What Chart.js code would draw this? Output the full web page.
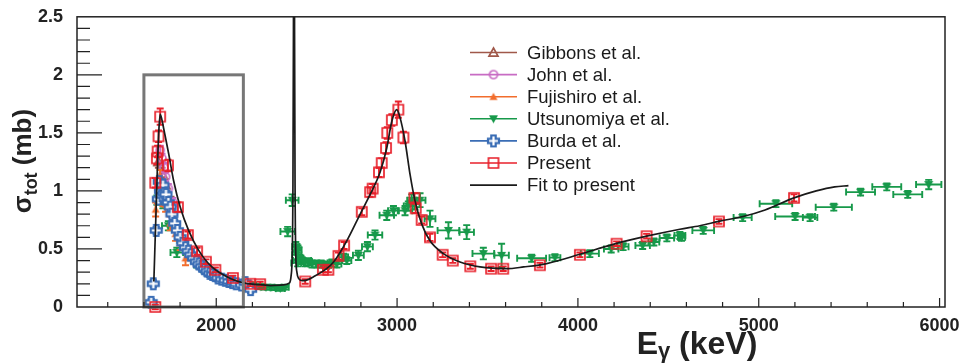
<!DOCTYPE html>
<html>
<head>
<meta charset="utf-8">
<script src="https://cdn.jsdelivr.net/npm/chart.js@4.4.1/dist/chart.umd.min.js"></script>
<style>
  html, body { margin: 0; padding: 0; background: #fff; }
  canvas { display: block; }
</style>
</head>
<body>
<canvas id="chart" width="964" height="363"></canvas>
<script>
// axis ticks
const xTicks = [2000, 3000, 4000, 5000, 6000];
const yTicks = [0, 0.5, 1, 1.5, 2, 2.5];

// Present (red squares)
const presentE = [1663, 1663, 1672, 1676, 1681, 1690, 1733, 1788, 1843, 1894, 1943, 1995, 2092, 2188, 2243,
  2492, 2590, 2620, 2676, 2707, 2805, 2851, 2865, 2900, 2915, 2939, 2946, 2971, 3007, 3035, 3096, 3103,
  3136, 3182, 3252, 3308, 3405, 3520, 3587, 3790, 4011, 4214, 4380, 4780, 5195];
const presentS = [0.00, 1.07, 1.28, 1.34, 1.47, 1.64, 1.22, 0.86, 0.62, 0.48, 0.39, 0.32, 0.25, 0.20, 0.197,
  0.22, 0.32, 0.32, 0.44, 0.53, 0.82, 0.99, 1.02, 1.16, 1.24, 1.37, 1.50, 1.61, 1.70, 1.46, 0.94, 0.85,
  0.75, 0.60, 0.45, 0.40, 0.35, 0.33, 0.33, 0.36, 0.45, 0.545, 0.61, 0.737, 0.94];
const presentErr = [0.02, 0.04, 0.05, 0.05, 0.05, 0.07, 0.05, 0.04, 0.03, 0.03, 0.02, 0.02, 0.02, 0.02, 0.02,
  0.02, 0.02, 0.02, 0.03, 0.03, 0.03, 0.04, 0.04, 0.04, 0.04, 0.05, 0.05, 0.05, 0.07, 0.05, 0.04, 0.04,
  0.03, 0.03, 0.02, 0.02, 0.02, 0.02, 0.02, 0.02, 0.02, 0.02, 0.02, 0.02, 0.03];

// Fit to present
const fitE = [1655, 1665, 1675, 1683, 1690, 1700, 1709, 1737, 1764, 1801, 1847, 1902, 1976, 2078, 2151, 2220,
  2300, 2370, 2403, 2414, 2420, 2424, 2427, 2430, 2433, 2436, 2440, 2446, 2456, 2475, 2500, 2538, 2610,
  2650, 2722, 2796, 2851, 2906, 2943, 2971, 2998, 3015, 3044, 3072, 3099, 3136, 3182, 3256, 3348, 3459,
  3606, 3700, 3827, 4011, 4195, 4380, 4564, 4674, 4785, 4914, 5035, 5195, 5318, 5420, 5496];
const fitS = [0.22, 0.72, 1.22, 1.53, 1.66, 1.61, 1.54, 1.32, 1.09, 0.86, 0.66, 0.49, 0.345, 0.246, 0.208, 0.195,
  0.185, 0.19, 0.205, 0.27, 0.45, 1.0, 2.4, 6.0, 2.4, 1.0, 0.45, 0.30, 0.245, 0.228, 0.232, 0.26, 0.33,
  0.39, 0.57, 0.80, 0.97, 1.16, 1.37, 1.60, 1.70, 1.64, 1.43, 1.14, 0.916, 0.716, 0.57, 0.46, 0.388, 0.345,
  0.33, 0.345, 0.374, 0.454, 0.54, 0.61, 0.67, 0.70, 0.74, 0.78, 0.836, 0.94, 1.0, 1.035, 1.045];

// Burda et al. (blue crosses)
const burdaE = [1640, 1652, 1668, 1680, 1685, 1692, 1700, 1705, 1712, 1722, 1735, 1745, 1755, 1770, 1785, 1800,
  1815, 1830, 1845, 1860, 1875, 1890, 1905, 1920, 1935, 1950, 1965, 1980, 1995, 2010, 2030, 2050, 2070,
  2090, 2110, 2140, 2160, 2190];
const burdaS = [0.04, 0.20, 0.66, 0.93, 1.08, 1.00, 0.96, 1.05, 0.98, 0.97, 0.90, 0.86, 0.80, 0.72, 0.66, 0.60,
  0.55, 0.51, 0.48, 0.45, 0.42, 0.39, 0.37, 0.35, 0.33, 0.31, 0.29, 0.28, 0.27, 0.25, 0.24, 0.23, 0.22,
  0.21, 0.20, 0.19, 0.21, 0.15];

// Utsunomiya et al. (green, with energy and cross-section errors)
const utsE = [1672, 1690, 1705, 1725, 1735, 1764, 1782, 1800, 1820, 1850, 1892, 1930, 1970, 2010, 2040, 2070,
  2110, 2150, 2200, 2243, 2275, 2298, 2330, 2354, 2381, 2395, 2420, 2440, 2452, 2445, 2462, 2475, 2450,
  2490, 2510, 2530, 2556, 2580, 2611, 2640, 2667, 2704, 2722, 2786, 2836, 2878, 2943, 2980, 3044, 3062,
  3081, 3099, 3127, 3182, 3284, 3385, 3477, 3578, 3744, 3873, 4066, 4184, 4250, 4358, 4420, 4492, 4564,
  4573, 4693, 4911, 5095, 5201, 5284, 5415, 5563, 5708, 5824, 5940];
const utsS = [0.92, 0.93, 0.89, 0.90, 0.70, 0.72, 0.47, 0.58, 0.52, 0.44, 0.37, 0.33, 0.29, 0.26, 0.25, 0.22,
  0.21, 0.20, 0.19, 0.175, 0.17, 0.17, 0.165, 0.16, 0.17, 0.65, 0.92, 0.52, 0.49, 0.45, 0.42, 0.40, 0.38,
  0.38, 0.39, 0.37, 0.37, 0.37, 0.36, 0.38, 0.37, 0.43, 0.40, 0.445, 0.52, 0.62, 0.79, 0.83, 0.83, 0.87,
  0.92, 0.89, 0.92, 0.76, 0.66, 0.645, 0.46, 0.445, 0.42, 0.425, 0.46, 0.50, 0.52, 0.53, 0.56, 0.595, 0.616,
  0.60, 0.66, 0.77, 0.89, 0.78, 0.77, 0.86, 0.99, 1.035, 0.97, 1.055];
const utsDE = [10, 10, 10, 15, 35, 15, 35, 15, 15, 15, 15, 15, 15, 15, 20, 20,
  20, 20, 20, 25, 25, 25, 25, 25, 20, 40, 35, 20, 20, 25, 20, 50, 35,
  20, 20, 20, 25, 20, 25, 25, 25, 25, 25, 30, 30, 40, 40, 30, 40, 25,
  25, 25, 30, 30, 60, 40, 60, 40, 80, 30, 50, 40, 30, 40, 30, 40, 30,
  20, 60, 50, 90, 110, 40, 100, 80, 80, 80, 70];
const utsDS = [0.04, 0.04, 0.04, 0.04, 0.04, 0.04, 0.04, 0.03, 0.03, 0.03, 0.03, 0.03, 0.02, 0.02, 0.02, 0.02,
  0.02, 0.02, 0.02, 0.02, 0.02, 0.02, 0.02, 0.02, 0.02, 0.04, 0.05, 0.04, 0.04, 0.04, 0.03, 0.03, 0.03,
  0.03, 0.03, 0.03, 0.03, 0.03, 0.03, 0.03, 0.03, 0.03, 0.03, 0.04, 0.04, 0.04, 0.04, 0.04, 0.04, 0.04,
  0.05, 0.05, 0.06, 0.07, 0.07, 0.06, 0.05, 0.10, 0.03, 0.03, 0.03, 0.03, 0.03, 0.03, 0.03, 0.03, 0.03,
  0.03, 0.03, 0.03, 0.03, 0.03, 0.03, 0.03, 0.03, 0.03, 0.03, 0.04];

// Fujishiro et al. (orange triangles)
const fujiE = [1665, 1675, 1690, 1705, 1720, 1745, 1775, 1800, 1830];
const fujiS = [0.84, 0.95, 1.12, 0.93, 0.88, 0.72, 0.63, 0.55, 0.42];

// John et al. (magenta circles)
const johnE = [1690, 1700, 1710, 1720, 1735, 1760];
const johnS = [1.35, 1.28, 1.20, 1.12, 1.02, 0.90];

// Gibbons et al. (brown open triangles)
const gibE = [1680, 1700, 1720, 1750];
const gibS = [1.25, 1.15, 1.05, 0.90];

// zoom box drawn on the plot: [E0, s0, E1, s1]
const zoomBox = [1600, 0, 2150, 2.0];

const FONT = '"Liberation Sans", Arial, Helvetica, sans-serif';
const INK = '#222';

function pts(xs, ys) {
  return xs.map((x, i) => ({ x: x, y: ys[i] }));
}

// small canvases used as point styles
function marker(kind, color, size) {
  const c = document.createElement('canvas');
  const s = size + 4;
  c.width = s;
  c.height = s;
  const g = c.getContext('2d');
  const m = s / 2, r = size / 2;
  g.strokeStyle = color;
  g.fillStyle = color;
  g.lineWidth = 1.7;
  g.beginPath();
  if (kind === 'square') {
    g.rect(m - r, m - r, size, size);
    g.stroke();
  } else if (kind === 'circle') {
    g.arc(m, m, r, 0, Math.PI * 2);
    g.stroke();
  } else if (kind === 'openTri' || kind === 'tri') {
    g.moveTo(m, m - r);
    g.lineTo(m + r, m + r * 0.8);
    g.lineTo(m - r, m + r * 0.8);
    g.closePath();
    if (kind === 'tri') g.fill(); else g.stroke();
  } else if (kind === 'triDown') {
    g.moveTo(m, m + r);
    g.lineTo(m + r, m - r * 0.8);
    g.lineTo(m - r, m - r * 0.8);
    g.closePath();
    g.fill();
  } else if (kind === 'cross') {
    const a = size * 0.2;
    g.moveTo(m - a, m - r); g.lineTo(m + a, m - r); g.lineTo(m + a, m - a);
    g.lineTo(m + r, m - a); g.lineTo(m + r, m + a); g.lineTo(m + a, m + a);
    g.lineTo(m + a, m + r); g.lineTo(m - a, m + r); g.lineTo(m - a, m + a);
    g.lineTo(m - r, m + a); g.lineTo(m - r, m - a); g.lineTo(m - a, m - a);
    g.closePath();
    g.fillStyle = '#fff';
    g.fill();
    g.lineWidth = 2.2;
    g.stroke();
  }
  return c;
}

const colors = {
  gib: '#a0584a',
  john: '#c86cc4',
  fuji: '#f26d2c',
  uts: '#17994a',
  burda: '#3a6db5',
  present: '#e8212b',
  fit: '#1a1a1a'
};

const markers = {
  gib: marker('openTri', colors.gib, 9),
  john: marker('circle', colors.john, 8),
  fuji: marker('tri', colors.fuji, 8),
  uts: marker('triDown', colors.uts, 9),
  burda: marker('cross', colors.burda, 11),
  present: marker('square', colors.present, 10)
};

// error bars, drawn just before each dataset
const errorBars = {
  id: 'errorBars',
  beforeDatasetDraw(chart, args) {
    const ds = chart.data.datasets[args.index];
    if (!ds.xErr && !ds.yErr) return;
    const ctx = chart.ctx, xs = chart.scales.x, ys = chart.scales.y;
    const cap = 3.5;
    ctx.save();
    ctx.strokeStyle = ds.errColor;
    ctx.lineWidth = 1.9;
    ds.data.forEach((p, i) => {
      const px = xs.getPixelForValue(p.x), py = ys.getPixelForValue(p.y);
      const dx = ds.xErr ? ds.xErr[i] : 0;
      const dy = ds.yErr ? ds.yErr[i] : 0;
      ctx.beginPath();
      if (dx) {
        const x1 = xs.getPixelForValue(p.x - dx), x2 = xs.getPixelForValue(p.x + dx);
        ctx.moveTo(x1, py); ctx.lineTo(x2, py);
        ctx.moveTo(x1, py - cap); ctx.lineTo(x1, py + cap);
        ctx.moveTo(x2, py - cap); ctx.lineTo(x2, py + cap);
      }
      if (dy) {
        const y1 = ys.getPixelForValue(p.y - dy), y2 = ys.getPixelForValue(p.y + dy);
        ctx.moveTo(px, y1); ctx.lineTo(px, y2);
        ctx.moveTo(px - cap, y1); ctx.lineTo(px + cap, y1);
        ctx.moveTo(px - cap, y2); ctx.lineTo(px + cap, y2);
      }
      ctx.stroke();
    });
    ctx.restore();
  }
};

// frame, inside ticks, zoom box, legend and axis titles
const decorations = {
  id: 'decorations',
  afterDatasetsDraw(chart) {
    const ctx = chart.ctx, a = chart.chartArea;
    const xs = chart.scales.x, ys = chart.scales.y;
    ctx.save();

    // gray box
    ctx.strokeStyle = '#777';
    ctx.lineWidth = 3;
    const bx0 = xs.getPixelForValue(zoomBox[0]), by0 = ys.getPixelForValue(zoomBox[1]);
    const bx1 = xs.getPixelForValue(zoomBox[2]), by1 = ys.getPixelForValue(zoomBox[3]);
    ctx.strokeRect(bx0, by1, bx1 - bx0, by0 - by1);

    // frame
    ctx.strokeStyle = INK;
    ctx.lineWidth = 1.5;
    ctx.strokeRect(a.left, a.top, a.right - a.left, a.bottom - a.top);

    // x ticks (every 200 keV, long at 1000)
    ctx.lineWidth = 1.2;
    ctx.beginPath();
    for (let k = 7; k <= 30; k++) {
      const v = k * 200;
      const px = xs.getPixelForValue(v);
      if (px < a.left || px > a.right) continue;
      const len = (k % 5 === 0) ? 9 : 5;
      ctx.moveTo(px, a.bottom); ctx.lineTo(px, a.bottom - len);
    }
    // y ticks (every 0.1, long at 0.5)
    for (let k = 1; k < 25; k++) {
      const py = ys.getPixelForValue(k / 10);
      const len = (k % 5 === 0) ? 25 : 13;
      ctx.moveTo(a.left, py); ctx.lineTo(a.left + len, py);
    }
    ctx.stroke();

    // legend
    const items = chart.data.datasets.slice().sort((p, q) => p.legendRank - q.legendRank);
    ctx.font = '18.5px ' + FONT;
    ctx.textBaseline = 'middle';
    ctx.textAlign = 'left';
    items.forEach((ds, i) => {
      const y = 52.5 + i * 22.1;
      ctx.strokeStyle = ds.legendColor;
      ctx.lineWidth = 1.6;
      ctx.beginPath();
      ctx.moveTo(470, y); ctx.lineTo(517, y);
      ctx.stroke();
      if (ds.legendMarker) {
        const im = ds.legendMarker;
        ctx.drawImage(im, 493.5 - im.width / 2, y - im.height / 2);
      }
      ctx.fillStyle = '#1a1a1a';
      ctx.fillText(ds.label, 527, y + 1);
    });
    ctx.restore();
  },
  afterDraw(chart) {
    const ctx = chart.ctx;
    ctx.save();
    ctx.fillStyle = INK;
    ctx.textBaseline = 'alphabetic';
    ctx.textAlign = 'left';

    // x title: E_gamma (keV)
    const big = 'bold 32px ' + FONT, sub = 'bold 22px ' + FONT;
    ctx.font = big;
    const wE = ctx.measureText('E').width, wR = ctx.measureText(' (keV)').width;
    ctx.font = sub;
    const wG = ctx.measureText('\u03b3').width;
    let x = 697 - (wE + wG + wR) / 2;
    const base = 354;
    ctx.font = big; ctx.fillText('E', x, base); x += wE;
    ctx.font = sub; ctx.fillText('\u03b3', x, base + 4); x += wG;
    ctx.font = big; ctx.fillText(' (keV)', x, base);

    // y title: sigma_tot (mb)
    const yb = 'bold 26px ' + FONT, ys = 'bold 18px ' + FONT;
    ctx.font = yb;
    const wS = ctx.measureText('\u03c3').width, wM = ctx.measureText(' (mb)').width;
    ctx.font = ys;
    const wT = ctx.measureText('tot').width;
    ctx.translate(31, 161);
    ctx.rotate(-Math.PI / 2);
    let t = -(wS + wT + wM) / 2;
    ctx.font = yb; ctx.fillText('\u03c3', t, 0); t += wS;
    ctx.font = ys; ctx.fillText('tot', t, 6); t += wT;
    ctx.font = yb; ctx.fillText(' (mb)', t, 0);
    ctx.restore();
  }
};

function scatterSet(label, key, xs, ys, rank, order, extra) {
  return Object.assign({
    label: label,
    data: pts(xs, ys),
    pointStyle: markers[key],
    showLine: false,
    clip: false,
    order: order,
    legendRank: rank,
    legendColor: colors[key],
    legendMarker: markers[key],
    errColor: colors[key]
  }, extra || {});
}

const datasets = [
  {
    label: 'Fit to present',
    data: pts(fitE, fitS),
    showLine: true,
    borderColor: colors.fit,
    borderWidth: 1.7,
    pointRadius: 0,
    cubicInterpolationMode: 'monotone',
    order: 0,
    legendRank: 6,
    legendColor: colors.fit
  },
  scatterSet('Present', 'present', presentE, presentS, 5, 1, { yErr: presentErr }),
  scatterSet('Burda et al.', 'burda', burdaE, burdaS, 4, 2, { yErr: burdaE.map(() => 0.03) }),
  scatterSet('Utsunomiya et al.', 'uts', utsE, utsS, 3, 4, { xErr: utsDE, yErr: utsDS }),
  scatterSet('Fujishiro et al.', 'fuji', fujiE, fujiS, 2, 3, { yErr: fujiE.map(() => 0.06) }),
  scatterSet('John et al.', 'john', johnE, johnS, 1, 5, { yErr: johnE.map(() => 0.04) }),
  scatterSet('Gibbons et al.', 'gib', gibE, gibS, 0, 6, { yErr: gibE.map(() => 0.05) })
];

const tickFont = { family: FONT, size: 18, weight: 'bold' };

new Chart(document.getElementById('chart'), {
  type: 'scatter',
  data: { datasets: datasets },
  plugins: [errorBars, decorations],
  options: {
    responsive: false,
    animation: false,
    devicePixelRatio: 1,
    layout: { padding: { top: 15, right: 19, left: 0, bottom: 0 } },
    plugins: {
      legend: { display: false },
      tooltip: { enabled: false }
    },
    scales: {
      x: {
        type: 'linear',
        min: 1230,
        max: 6030,
        grid: { display: false },
        border: { display: false },
        afterBuildTicks: s => { s.ticks = xTicks.map(v => ({ value: v })); },
        afterFit: s => { s.height = 56; },
        ticks: {
          font: tickFont,
          color: INK,
          padding: 0,
          maxRotation: 0,
          autoSkip: false,
          callback: v => String(v)
        }
      },
      y: {
        type: 'linear',
        min: 0,
        max: 2.5,
        grid: { display: false },
        border: { display: false },
        afterBuildTicks: s => { s.ticks = yTicks.map(v => ({ value: v })); },
        afterFit: s => { s.width = 77; },
        ticks: {
          font: tickFont,
          color: INK,
          padding: 6,
          autoSkip: false,
          callback: v => String(v)
        }
      }
    }
  }
});
</script>
</body>
</html>
